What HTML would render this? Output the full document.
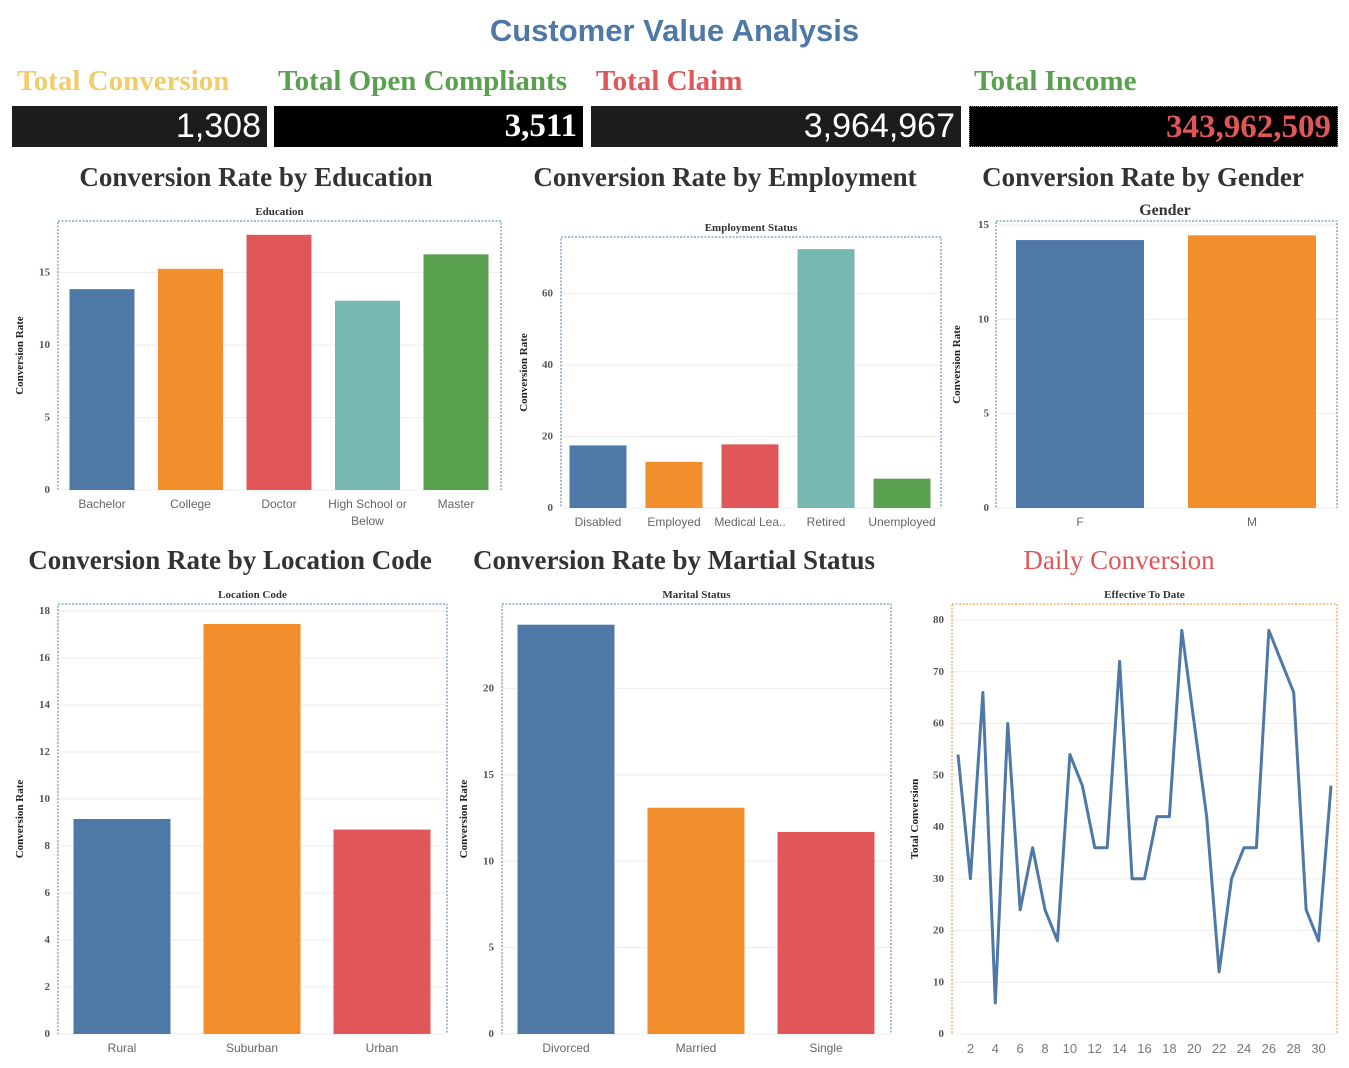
<!DOCTYPE html>
<html><head><meta charset="utf-8">
<style>
body{margin:0;width:1349px;height:1068px;background:#fff;overflow:hidden;position:relative;font-family:"Liberation Sans",sans-serif}
.abs{position:absolute;white-space:nowrap}
.kt{font-family:"Liberation Serif",serif;font-weight:bold;font-size:29px;top:65px}
.box{position:absolute;top:106px;height:41px;color:#fff;text-align:right;box-sizing:border-box;padding-right:6px;line-height:41px}
.ct{font-family:"Liberation Serif",serif;font-weight:bold;font-size:27px;color:#333;transform:translateX(-50%)}
</style></head><body>
<div class="abs" style="left:0;width:1349px;text-align:center;top:13px;font-size:31px;font-weight:bold;color:#4e79a7">Customer Value Analysis</div>
<div class="abs kt" style="left:17px;color:#f0cd6a">Total Conversion</div>
<div class="abs kt" style="left:278px;color:#59a14f">Total Open Compliants</div>
<div class="abs kt" style="left:596px;color:#e15759">Total Claim</div>
<div class="abs kt" style="left:974px;color:#59a14f">Total Income</div>
<div class="box" style="left:12px;width:255px;background:#1c1c1c;font-size:34px">1,308</div>
<div class="box" style="left:274px;width:309px;background:#000;font-family:'Liberation Serif',serif;font-weight:bold;font-size:33px">3,511</div>
<div class="box" style="left:591px;width:370px;background:#1c1c1c;font-size:34px">3,964,967</div>
<div class="box" style="left:969px;width:369px;background:#000;border:1px dotted #6a8ab0;color:#e15759;font-family:'Liberation Serif',serif;font-weight:bold;font-size:33px">343,962,509</div>
<div class="abs ct" style="left:256px;top:162px">Conversion Rate by Education</div>
<div class="abs ct" style="left:725px;top:162px">Conversion Rate by Employment</div>
<div class="abs ct" style="left:1143px;top:162px">Conversion Rate by Gender</div>
<div class="abs ct" style="left:230px;top:545px">Conversion Rate by Location Code</div>
<div class="abs ct" style="left:674px;top:545px">Conversion Rate by Martial Status</div>
<div class="abs ct" style="left:1119px;top:545px;color:#e15759;font-weight:normal">Daily Conversion</div>
<svg id="s" width="1349" height="1068" style="position:absolute;left:0;top:0"></svg>
<script>
const eduCats=["Bachelor","College","Doctor","High School or|Below","Master"];
const eduVals=[13.85,15.25,17.6,13.05,16.25];
const eduTicks=[0,5,10,15];
const empCats=["Disabled","Employed","Medical Lea..","Retired","Unemployed"];
const empVals=[17.5,12.9,17.8,72.4,8.2];
const empTicks=[0,20,40,60];
const genCats=["F","M"];
const genVals=[14.2,14.45];
const genTicks=[0,5,10,15];
const locCats=["Rural","Suburban","Urban"];
const locVals=[9.15,17.45,8.7];
const locTicks=[0,2,4,6,8,10,12,14,16,18];
const marCats=["Divorced","Married","Single"];
const marVals=[23.7,13.1,11.7];
const marTicks=[0,5,10,15,20];
const days=[1,2,3,4,5,6,7,8,9,10,11,12,13,14,15,16,17,18,19,20,21,22,23,24,25,26,27,28,29,30,31];
const dailyVals=[54,30,66,6,60,24,36,24,18,54,48,36,36,72,30,30,42,42,78,60,42,12,30,36,36,78,72,66,24,18,48];
const dailyTicks=[0,10,20,30,40,50,60,70,80];
const dayLabels=[2,4,6,8,10,12,14,16,18,20,22,24,26,28,30];
const colors=["#4e79a7","#f28e2b","#e15759","#76b7b2","#59a14f"];
const NS="http://www.w3.org/2000/svg";
const svg=document.getElementById('s');
function el(t,a,txt){const e=document.createElementNS(NS,t);for(const k in a)e.setAttribute(k,a[k]);if(txt!==undefined)e.textContent=txt;svg.appendChild(e);return e;}
function frame(name,x0,x1,y0,y1,head,headSize,ytitle,border,yScale,ticks,lblX,titleX,hx){
  const h=el('text',{x:hx!==undefined?hx:(x0+x1)/2,y:y0-6,'text-anchor':'middle','font-family':'Liberation Serif,serif','font-weight':'bold','font-size':headSize,fill:'#333'},head);
  
  
  ticks.forEach(t=>{const y=yScale(t);
    if(t>0){const g=el('line',{x1:x0,x2:x1,y1:y,y2:y,stroke:'#eee'});}
    const l=el('text',{x:lblX,y:y+3,'text-anchor':'end','font-family':'Liberation Serif,serif','font-weight':'bold','font-size':11,fill:'#555'},t);
    
    });
  const r=el('rect',{x:x0,y:y0,width:x1-x0,height:y1-y0,fill:'none',stroke:border,'stroke-dasharray':'2,1.5','stroke-width':1});
  
  
  const bx=el('line',{x1:x0,x2:x1,y1:y1,y2:y1,stroke:'#eee'});
  
  
  const tx=titleX,ty=(y0+y1)/2;
  const yt=el('text',{x:tx,y:ty,transform:`rotate(-90 ${tx} ${ty})`,'text-anchor':'middle','font-family':'Liberation Serif,serif','font-weight':'bold','font-size':11,fill:'#222'},ytitle);
  
  
}
function bars(name,cats,vals,ticks,x0,x1,y0,y1,maxV,first,step,bw,head,headSize,border,lblX,titleX,hx){
  const ys=v=>y1-v/maxV*(y1-y0);
  frame(name,x0,x1,y0,y1,head,headSize,'Conversion Rate',border,ys,ticks,lblX,titleX,hx);
  cats.forEach((c,i)=>{const cx=first+i*step;
    const b=el('rect',{x:cx-bw/2,y:ys(vals[i]),width:bw,height:y1-ys(vals[i]),fill:colors[i%5]});
    
    
    c.split('|').forEach((p,j)=>{const l=el('text',{x:cx,y:y1+18+j*17,'text-anchor':'middle','font-size':12,fill:'#666'},p);
      
      });
  });
}
bars('education',eduCats,eduVals,eduTicks,58,501,221,490,18.55,102,88.5,65,'Education',11,'#4e79a7',50,23);
bars('employment',empCats,empVals,empTicks,561,941,237,508,75.8,598,76,57,'Employment Status',11,'#4e79a7',553,527);
bars('gender',genCats,genVals,genTicks,996,1337,221,508,15.21,1080,172,128,'Gender',16,'#4e79a7',989,960,1165);
bars('location',locCats,locVals,locTicks,58,447,604,1034,18.3,122,130,97,'Location Code',11,'#4e79a7',50,23);
bars('marital',marCats,marVals,marTicks,502,891,604,1034,24.9,566,130,97,'Marital Status',11,'#4e79a7',494,467);
(function(){
  const x0=952,x1=1337,y0=604,y1=1034;
  const ys=v=>y1-v/80*(1034-620);
  const xs=d=>958+(d-1)*(1331-958)/30;
  frame('daily',x0,x1,y0,y1,'Effective To Date',11,'Total Conversion','#f28e2b',ys,dailyTicks,944,918);
  const p=el('polyline',{points:days.map((d,i)=>xs(d)+','+ys(dailyVals[i])).join(' '),fill:'none',stroke:'#4e79a7','stroke-width':3,'stroke-linejoin':'round'});
  
  
  dayLabels.forEach(d=>{const l=el('text',{x:xs(d),y:1053,'text-anchor':'middle','font-size':13,fill:'#777'},d);
    
    });
})();
</script>
</body></html>
